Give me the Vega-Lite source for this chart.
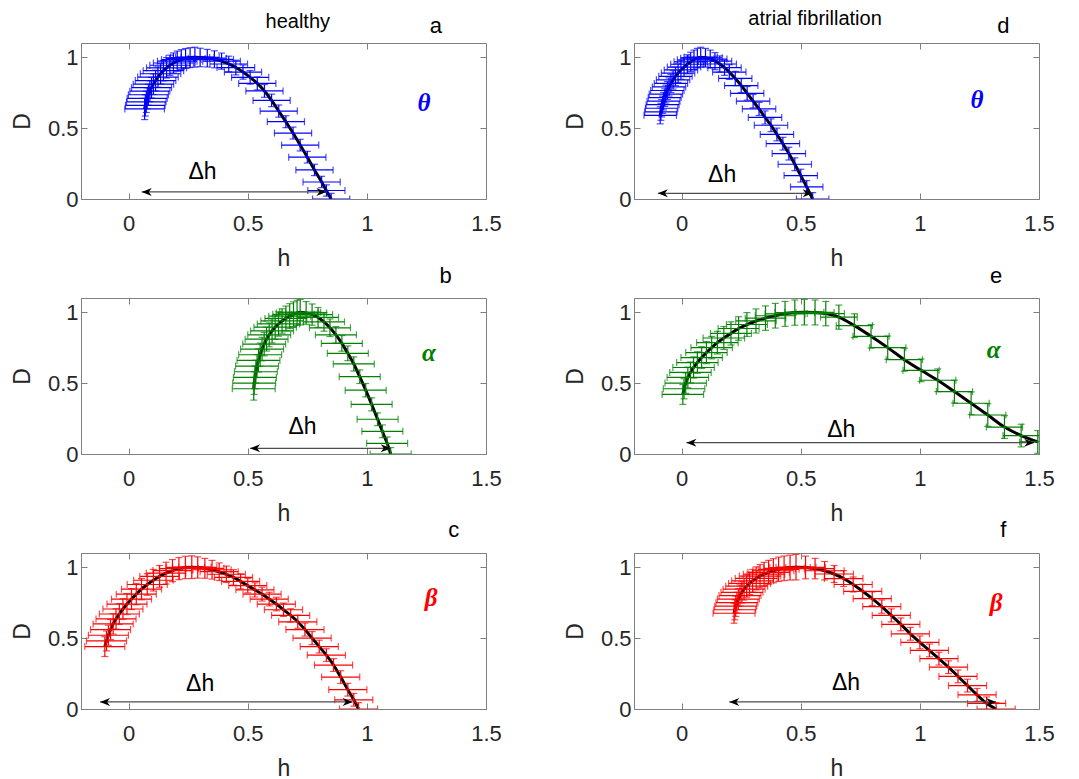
{
"$schema": "https://vega.github.io/schema/vega-lite/v6.json",
"padding": {"left": 10, "top": 8, "right": 5, "bottom": 5},
"background": "white",
"data": {"values": [
{"p":"a","h":0.067,"D":0.635,"xe":0.083,"ye":0.075},
{"p":"a","h":0.070,"D":0.66,"xe":0.083,"ye":0.075},
{"p":"a","h":0.074,"D":0.685,"xe":0.083,"ye":0.075},
{"p":"a","h":0.078,"D":0.71,"xe":0.084,"ye":0.074},
{"p":"a","h":0.083,"D":0.735,"xe":0.084,"ye":0.074},
{"p":"a","h":0.089,"D":0.76,"xe":0.084,"ye":0.074},
{"p":"a","h":0.096,"D":0.785,"xe":0.084,"ye":0.073},
{"p":"a","h":0.104,"D":0.81,"xe":0.085,"ye":0.073},
{"p":"a","h":0.113,"D":0.835,"xe":0.085,"ye":0.073},
{"p":"a","h":0.123,"D":0.86,"xe":0.085,"ye":0.072},
{"p":"a","h":0.134,"D":0.883,"xe":0.085,"ye":0.072},
{"p":"a","h":0.146,"D":0.905,"xe":0.085,"ye":0.072},
{"p":"a","h":0.159,"D":0.925,"xe":0.084,"ye":0.072},
{"p":"a","h":0.173,"D":0.943,"xe":0.084,"ye":0.071},
{"p":"a","h":0.188,"D":0.959,"xe":0.084,"ye":0.071},
{"p":"a","h":0.204,"D":0.972,"xe":0.083,"ye":0.071},
{"p":"a","h":0.221,"D":0.983,"xe":0.083,"ye":0.07},
{"p":"a","h":0.239,"D":0.991,"xe":0.082,"ye":0.07},
{"p":"a","h":0.258,"D":0.997,"xe":0.082,"ye":0.07},
{"p":"a","h":0.278,"D":1.0,"xe":0.081,"ye":0.07},
{"p":"a","h":0.30,"D":0.998,"xe":0.08,"ye":0.065},
{"p":"a","h":0.33,"D":0.993,"xe":0.08,"ye":0.062},
{"p":"a","h":0.36,"D":0.985,"xe":0.08,"ye":0.06},
{"p":"a","h":0.39,"D":0.972,"xe":0.079,"ye":0.057},
{"p":"a","h":0.42,"D":0.952,"xe":0.079,"ye":0.055},
{"p":"a","h":0.45,"D":0.927,"xe":0.079,"ye":0.052},
{"p":"a","h":0.48,"D":0.895,"xe":0.078,"ye":0.05},
{"p":"a","h":0.51,"D":0.858,"xe":0.078,"ye":0.048},
{"p":"a","h":0.54,"D":0.815,"xe":0.078,"ye":0.046},
{"p":"a","h":0.57,"D":0.762,"xe":0.078,"ye":0.045},
{"p":"a","h":0.60,"D":0.695,"xe":0.078,"ye":0.044},
{"p":"a","h":0.63,"D":0.62,"xe":0.078,"ye":0.043},
{"p":"a","h":0.66,"D":0.545,"xe":0.078,"ye":0.042},
{"p":"a","h":0.69,"D":0.465,"xe":0.078,"ye":0.042},
{"p":"a","h":0.72,"D":0.38,"xe":0.078,"ye":0.041},
{"p":"a","h":0.75,"D":0.295,"xe":0.078,"ye":0.041},
{"p":"a","h":0.78,"D":0.205,"xe":0.078,"ye":0.04},
{"p":"a","h":0.81,"D":0.12,"xe":0.078,"ye":0.04},
{"p":"a","h":0.83,"D":0.06,"xe":0.078,"ye":0.04},
{"p":"a","h":0.85,"D":0.0,"xe":0.078,"ye":0.04},
{"p":"d","h":-0.090,"D":0.59,"xe":0.068,"ye":0.06},
{"p":"d","h":-0.087,"D":0.615,"xe":0.068,"ye":0.06},
{"p":"d","h":-0.084,"D":0.64,"xe":0.068,"ye":0.061},
{"p":"d","h":-0.080,"D":0.665,"xe":0.069,"ye":0.061},
{"p":"d","h":-0.076,"D":0.69,"xe":0.069,"ye":0.062},
{"p":"d","h":-0.071,"D":0.715,"xe":0.069,"ye":0.062},
{"p":"d","h":-0.066,"D":0.74,"xe":0.07,"ye":0.063},
{"p":"d","h":-0.060,"D":0.765,"xe":0.07,"ye":0.063},
{"p":"d","h":-0.053,"D":0.79,"xe":0.07,"ye":0.064},
{"p":"d","h":-0.045,"D":0.815,"xe":0.07,"ye":0.064},
{"p":"d","h":-0.036,"D":0.84,"xe":0.07,"ye":0.065},
{"p":"d","h":-0.026,"D":0.865,"xe":0.07,"ye":0.065},
{"p":"d","h":-0.015,"D":0.888,"xe":0.07,"ye":0.066},
{"p":"d","h":-0.003,"D":0.91,"xe":0.07,"ye":0.066},
{"p":"d","h":0.010,"D":0.93,"xe":0.07,"ye":0.067},
{"p":"d","h":0.024,"D":0.95,"xe":0.07,"ye":0.067},
{"p":"d","h":0.038,"D":0.967,"xe":0.07,"ye":0.068},
{"p":"d","h":0.052,"D":0.982,"xe":0.07,"ye":0.068},
{"p":"d","h":0.066,"D":0.993,"xe":0.07,"ye":0.069},
{"p":"d","h":0.080,"D":1.0,"xe":0.07,"ye":0.07},
{"p":"d","h":0.10,"D":0.996,"xe":0.07,"ye":0.066},
{"p":"d","h":0.12,"D":0.987,"xe":0.07,"ye":0.063},
{"p":"d","h":0.14,"D":0.972,"xe":0.07,"ye":0.06},
{"p":"d","h":0.16,"D":0.952,"xe":0.07,"ye":0.057},
{"p":"d","h":0.18,"D":0.926,"xe":0.07,"ye":0.054},
{"p":"d","h":0.20,"D":0.895,"xe":0.07,"ye":0.052},
{"p":"d","h":0.225,"D":0.85,"xe":0.07,"ye":0.05},
{"p":"d","h":0.25,"D":0.80,"xe":0.07,"ye":0.049},
{"p":"d","h":0.275,"D":0.745,"xe":0.07,"ye":0.048},
{"p":"d","h":0.30,"D":0.69,"xe":0.07,"ye":0.047},
{"p":"d","h":0.325,"D":0.635,"xe":0.07,"ye":0.046},
{"p":"d","h":0.35,"D":0.575,"xe":0.07,"ye":0.046},
{"p":"d","h":0.375,"D":0.52,"xe":0.07,"ye":0.045},
{"p":"d","h":0.40,"D":0.455,"xe":0.07,"ye":0.045},
{"p":"d","h":0.425,"D":0.39,"xe":0.07,"ye":0.045},
{"p":"d","h":0.45,"D":0.32,"xe":0.07,"ye":0.045},
{"p":"d","h":0.475,"D":0.245,"xe":0.07,"ye":0.045},
{"p":"d","h":0.50,"D":0.165,"xe":0.07,"ye":0.045},
{"p":"d","h":0.525,"D":0.085,"xe":0.068,"ye":0.045},
{"p":"d","h":0.55,"D":0.0,"xe":0.068,"ye":0.045},
{"p":"b","h":0.525,"D":0.46,"xe":0.09,"ye":0.08},
{"p":"b","h":0.527,"D":0.50,"xe":0.09,"ye":0.08},
{"p":"b","h":0.530,"D":0.54,"xe":0.09,"ye":0.08},
{"p":"b","h":0.534,"D":0.58,"xe":0.09,"ye":0.081},
{"p":"b","h":0.539,"D":0.62,"xe":0.09,"ye":0.081},
{"p":"b","h":0.545,"D":0.66,"xe":0.09,"ye":0.082},
{"p":"b","h":0.552,"D":0.70,"xe":0.09,"ye":0.082},
{"p":"b","h":0.560,"D":0.74,"xe":0.09,"ye":0.083},
{"p":"b","h":0.569,"D":0.775,"xe":0.09,"ye":0.083},
{"p":"b","h":0.579,"D":0.81,"xe":0.09,"ye":0.084},
{"p":"b","h":0.590,"D":0.84,"xe":0.09,"ye":0.084},
{"p":"b","h":0.602,"D":0.868,"xe":0.09,"ye":0.085},
{"p":"b","h":0.615,"D":0.894,"xe":0.089,"ye":0.085},
{"p":"b","h":0.629,"D":0.917,"xe":0.089,"ye":0.086},
{"p":"b","h":0.644,"D":0.938,"xe":0.089,"ye":0.086},
{"p":"b","h":0.660,"D":0.956,"xe":0.088,"ye":0.087},
{"p":"b","h":0.676,"D":0.972,"xe":0.088,"ye":0.088},
{"p":"b","h":0.692,"D":0.985,"xe":0.087,"ye":0.088},
{"p":"b","h":0.707,"D":0.995,"xe":0.087,"ye":0.089},
{"p":"b","h":0.720,"D":1.0,"xe":0.086,"ye":0.09},
{"p":"b","h":0.745,"D":0.995,"xe":0.086,"ye":0.08},
{"p":"b","h":0.770,"D":0.983,"xe":0.086,"ye":0.075},
{"p":"b","h":0.795,"D":0.963,"xe":0.086,"ye":0.07},
{"p":"b","h":0.820,"D":0.932,"xe":0.086,"ye":0.066},
{"p":"b","h":0.845,"D":0.89,"xe":0.086,"ye":0.062},
{"p":"b","h":0.870,"D":0.84,"xe":0.086,"ye":0.058},
{"p":"b","h":0.895,"D":0.78,"xe":0.086,"ye":0.055},
{"p":"b","h":0.920,"D":0.71,"xe":0.086,"ye":0.052},
{"p":"b","h":0.945,"D":0.635,"xe":0.086,"ye":0.05},
{"p":"b","h":0.970,"D":0.545,"xe":0.086,"ye":0.048},
{"p":"b","h":0.995,"D":0.45,"xe":0.086,"ye":0.047},
{"p":"b","h":1.020,"D":0.35,"xe":0.086,"ye":0.046},
{"p":"b","h":1.045,"D":0.245,"xe":0.086,"ye":0.045},
{"p":"b","h":1.065,"D":0.16,"xe":0.086,"ye":0.045},
{"p":"b","h":1.085,"D":0.075,"xe":0.086,"ye":0.045},
{"p":"b","h":1.100,"D":0.0,"xe":0.086,"ye":0.045},
{"p":"e","h":0.005,"D":0.42,"xe":0.087,"ye":0.07},
{"p":"e","h":0.010,"D":0.46,"xe":0.087,"ye":0.071},
{"p":"e","h":0.017,"D":0.50,"xe":0.087,"ye":0.072},
{"p":"e","h":0.026,"D":0.54,"xe":0.087,"ye":0.073},
{"p":"e","h":0.037,"D":0.575,"xe":0.087,"ye":0.074},
{"p":"e","h":0.050,"D":0.61,"xe":0.087,"ye":0.075},
{"p":"e","h":0.066,"D":0.645,"xe":0.087,"ye":0.076},
{"p":"e","h":0.084,"D":0.68,"xe":0.087,"ye":0.077},
{"p":"e","h":0.104,"D":0.715,"xe":0.087,"ye":0.078},
{"p":"e","h":0.126,"D":0.75,"xe":0.087,"ye":0.079},
{"p":"e","h":0.150,"D":0.785,"xe":0.087,"ye":0.08},
{"p":"e","h":0.177,"D":0.818,"xe":0.087,"ye":0.081},
{"p":"e","h":0.207,"D":0.85,"xe":0.086,"ye":0.082},
{"p":"e","h":0.239,"D":0.885,"xe":0.086,"ye":0.083},
{"p":"e","h":0.274,"D":0.913,"xe":0.086,"ye":0.084},
{"p":"e","h":0.312,"D":0.938,"xe":0.085,"ye":0.085},
{"p":"e","h":0.352,"D":0.958,"xe":0.085,"ye":0.086},
{"p":"e","h":0.393,"D":0.975,"xe":0.084,"ye":0.087},
{"p":"e","h":0.434,"D":0.988,"xe":0.084,"ye":0.088},
{"p":"e","h":0.475,"D":0.997,"xe":0.083,"ye":0.089},
{"p":"e","h":0.515,"D":1.0,"xe":0.082,"ye":0.09},
{"p":"e","h":0.56,"D":0.998,"xe":0.08,"ye":0.088},
{"p":"e","h":0.605,"D":0.99,"xe":0.078,"ye":0.086},
{"p":"e","h":0.66,"D":0.965,"xe":0.077,"ye":0.085},
{"p":"e","h":0.725,"D":0.905,"xe":0.076,"ye":0.084},
{"p":"e","h":0.795,"D":0.83,"xe":0.076,"ye":0.083},
{"p":"e","h":0.865,"D":0.75,"xe":0.076,"ye":0.082},
{"p":"e","h":0.935,"D":0.665,"xe":0.076,"ye":0.081},
{"p":"e","h":1.005,"D":0.59,"xe":0.076,"ye":0.08},
{"p":"e","h":1.075,"D":0.52,"xe":0.076,"ye":0.08},
{"p":"e","h":1.145,"D":0.44,"xe":0.076,"ye":0.08},
{"p":"e","h":1.215,"D":0.358,"xe":0.076,"ye":0.08},
{"p":"e","h":1.285,"D":0.275,"xe":0.076,"ye":0.08},
{"p":"e","h":1.355,"D":0.19,"xe":0.076,"ye":0.08},
{"p":"e","h":1.425,"D":0.13,"xe":0.076,"ye":0.08},
{"p":"e","h":1.495,"D":0.085,"xe":0.076,"ye":0.08},
{"p":"c","h":-0.100,"D":0.44,"xe":0.084,"ye":0.07},
{"p":"c","h":-0.093,"D":0.48,"xe":0.084,"ye":0.07},
{"p":"c","h":-0.085,"D":0.52,"xe":0.084,"ye":0.071},
{"p":"c","h":-0.076,"D":0.56,"xe":0.084,"ye":0.071},
{"p":"c","h":-0.065,"D":0.60,"xe":0.084,"ye":0.072},
{"p":"c","h":-0.053,"D":0.635,"xe":0.084,"ye":0.072},
{"p":"c","h":-0.039,"D":0.67,"xe":0.084,"ye":0.073},
{"p":"c","h":-0.024,"D":0.705,"xe":0.084,"ye":0.073},
{"p":"c","h":-0.007,"D":0.74,"xe":0.084,"ye":0.074},
{"p":"c","h":0.012,"D":0.775,"xe":0.084,"ye":0.074},
{"p":"c","h":0.032,"D":0.81,"xe":0.084,"ye":0.075},
{"p":"c","h":0.054,"D":0.845,"xe":0.084,"ye":0.075},
{"p":"c","h":0.078,"D":0.878,"xe":0.084,"ye":0.076},
{"p":"c","h":0.104,"D":0.908,"xe":0.083,"ye":0.076},
{"p":"c","h":0.130,"D":0.935,"xe":0.083,"ye":0.077},
{"p":"c","h":0.157,"D":0.958,"xe":0.083,"ye":0.077},
{"p":"c","h":0.184,"D":0.976,"xe":0.082,"ye":0.078},
{"p":"c","h":0.211,"D":0.99,"xe":0.082,"ye":0.078},
{"p":"c","h":0.238,"D":0.998,"xe":0.081,"ye":0.079},
{"p":"c","h":0.265,"D":1.0,"xe":0.081,"ye":0.08},
{"p":"c","h":0.29,"D":0.998,"xe":0.08,"ye":0.075},
{"p":"c","h":0.32,"D":0.992,"xe":0.08,"ye":0.07},
{"p":"c","h":0.35,"D":0.982,"xe":0.08,"ye":0.066},
{"p":"c","h":0.38,"D":0.968,"xe":0.08,"ye":0.062},
{"p":"c","h":0.41,"D":0.95,"xe":0.08,"ye":0.058},
{"p":"c","h":0.44,"D":0.928,"xe":0.08,"ye":0.055},
{"p":"c","h":0.47,"D":0.90,"xe":0.08,"ye":0.053},
{"p":"c","h":0.50,"D":0.87,"xe":0.08,"ye":0.051},
{"p":"c","h":0.53,"D":0.84,"xe":0.08,"ye":0.05},
{"p":"c","h":0.56,"D":0.81,"xe":0.08,"ye":0.049},
{"p":"c","h":0.59,"D":0.775,"xe":0.08,"ye":0.048},
{"p":"c","h":0.62,"D":0.74,"xe":0.08,"ye":0.048},
{"p":"c","h":0.65,"D":0.70,"xe":0.08,"ye":0.047},
{"p":"c","h":0.68,"D":0.66,"xe":0.08,"ye":0.047},
{"p":"c","h":0.71,"D":0.615,"xe":0.08,"ye":0.046},
{"p":"c","h":0.74,"D":0.56,"xe":0.08,"ye":0.046},
{"p":"c","h":0.77,"D":0.50,"xe":0.08,"ye":0.046},
{"p":"c","h":0.80,"D":0.44,"xe":0.08,"ye":0.045},
{"p":"c","h":0.83,"D":0.38,"xe":0.08,"ye":0.045},
{"p":"c","h":0.86,"D":0.31,"xe":0.08,"ye":0.045},
{"p":"c","h":0.89,"D":0.225,"xe":0.08,"ye":0.045},
{"p":"c","h":0.92,"D":0.136,"xe":0.08,"ye":0.045},
{"p":"c","h":0.945,"D":0.065,"xe":0.08,"ye":0.045},
{"p":"c","h":0.965,"D":0.0,"xe":0.08,"ye":0.045},
{"p":"f","h":0.220,"D":0.675,"xe":0.088,"ye":0.07},
{"p":"f","h":0.223,"D":0.70,"xe":0.088,"ye":0.071},
{"p":"f","h":0.227,"D":0.725,"xe":0.088,"ye":0.072},
{"p":"f","h":0.232,"D":0.75,"xe":0.088,"ye":0.073},
{"p":"f","h":0.238,"D":0.775,"xe":0.088,"ye":0.074},
{"p":"f","h":0.245,"D":0.80,"xe":0.088,"ye":0.075},
{"p":"f","h":0.253,"D":0.823,"xe":0.088,"ye":0.076},
{"p":"f","h":0.262,"D":0.845,"xe":0.088,"ye":0.077},
{"p":"f","h":0.273,"D":0.866,"xe":0.088,"ye":0.078},
{"p":"f","h":0.285,"D":0.886,"xe":0.088,"ye":0.079},
{"p":"f","h":0.298,"D":0.904,"xe":0.088,"ye":0.08},
{"p":"f","h":0.313,"D":0.921,"xe":0.088,"ye":0.081},
{"p":"f","h":0.329,"D":0.937,"xe":0.087,"ye":0.082},
{"p":"f","h":0.346,"D":0.951,"xe":0.087,"ye":0.083},
{"p":"f","h":0.365,"D":0.964,"xe":0.087,"ye":0.084},
{"p":"f","h":0.385,"D":0.975,"xe":0.086,"ye":0.085},
{"p":"f","h":0.407,"D":0.985,"xe":0.086,"ye":0.086},
{"p":"f","h":0.430,"D":0.992,"xe":0.085,"ye":0.087},
{"p":"f","h":0.455,"D":0.997,"xe":0.085,"ye":0.088},
{"p":"f","h":0.480,"D":1.0,"xe":0.084,"ye":0.09},
{"p":"f","h":0.52,"D":0.998,"xe":0.083,"ye":0.08},
{"p":"f","h":0.56,"D":0.99,"xe":0.082,"ye":0.072},
{"p":"f","h":0.60,"D":0.975,"xe":0.082,"ye":0.065},
{"p":"f","h":0.64,"D":0.952,"xe":0.081,"ye":0.06},
{"p":"f","h":0.68,"D":0.92,"xe":0.081,"ye":0.056},
{"p":"f","h":0.72,"D":0.878,"xe":0.08,"ye":0.053},
{"p":"f","h":0.76,"D":0.83,"xe":0.08,"ye":0.05},
{"p":"f","h":0.80,"D":0.778,"xe":0.08,"ye":0.048},
{"p":"f","h":0.84,"D":0.722,"xe":0.08,"ye":0.047},
{"p":"f","h":0.88,"D":0.66,"xe":0.08,"ye":0.046},
{"p":"f","h":0.92,"D":0.597,"xe":0.08,"ye":0.045},
{"p":"f","h":0.96,"D":0.53,"xe":0.08,"ye":0.045},
{"p":"f","h":1.00,"D":0.47,"xe":0.08,"ye":0.045},
{"p":"f","h":1.04,"D":0.413,"xe":0.08,"ye":0.045},
{"p":"f","h":1.08,"D":0.355,"xe":0.08,"ye":0.045},
{"p":"f","h":1.12,"D":0.295,"xe":0.08,"ye":0.045},
{"p":"f","h":1.16,"D":0.23,"xe":0.08,"ye":0.045},
{"p":"f","h":1.20,"D":0.165,"xe":0.08,"ye":0.045},
{"p":"f","h":1.24,"D":0.10,"xe":0.08,"ye":0.045},
{"p":"f","h":1.28,"D":0.04,"xe":0.08,"ye":0.045},
{"p":"f","h":1.32,"D":0.0,"xe":0.08,"ye":0.045},
{"p":"a","k":1,"a1":0.055,"a2":0.83,"ay":0.05,"th":0.31,"tD":0.19,"gh":1.24,"gD":0.68,"g":"θ","lh":1.29,"lD":1.17,"L":"a","T":"healthy","Th":0.71,"TD":1.206},
{"p":"d","k":1,"a1":-0.10,"a2":0.55,"ay":0.04,"th":0.17,"tD":0.17,"gh":1.24,"gD":0.70,"g":"θ","lh":1.35,"lD":1.17,"L":"d","T":"atrial fibrillation","Th":0.56,"TD":1.227},
{"p":"b","k":1,"a1":0.51,"a2":1.10,"ay":0.04,"th":0.73,"tD":0.19,"gh":1.26,"gD":0.71,"g":"α","lh":1.33,"lD":1.206,"L":"b"},
{"p":"e","k":1,"a1":0.02,"a2":1.48,"ay":0.08,"th":0.67,"tD":0.17,"gh":1.31,"gD":0.73,"g":"α","lh":1.32,"lD":1.206,"L":"e"},
{"p":"c","k":1,"a1":-0.12,"a2":0.94,"ay":0.05,"th":0.30,"tD":0.176,"gh":1.27,"gD":0.78,"g":"β","lh":1.365,"lD":1.213,"L":"c"},
{"p":"f","k":1,"a1":0.20,"a2":1.32,"ay":0.05,"th":0.69,"tD":0.18,"gh":1.32,"gD":0.75,"g":"β","lh":1.35,"lD":1.213,"L":"f"}
]},
"transform": [{"lookup": "p", "from": {"data": {"values": [
 {"p":"a","r":1,"c":1},{"p":"b","r":2,"c":1},{"p":"c","r":3,"c":1},
 {"p":"d","r":1,"c":2},{"p":"e","r":2,"c":2},{"p":"f","r":3,"c":2}]}, "key": "p", "fields": ["r","c"]}}],
"facet": {
 "row": {"field": "r", "type": "ordinal", "header": null},
 "column": {"field": "c", "type": "ordinal", "header": null}},
"spacing": {"row": 99, "column": 148},
"bounds": "flush",
"resolve": {"axis": {"x": "independent", "y": "independent"}},
"spec": {
"width": 405, "height": 156,
"resolve": {"axis": {"x": "independent", "y": "independent"}},
"layer": [
{"transform": [{"filter": "!datum.k"}],
 "mark": {"type": "line", "color": "#000000", "strokeWidth": 3, "interpolate": "monotone", "clip": true},
 "encoding": {
  "x": {"field": "h", "type": "quantitative", "title": "h", "scale": {"domain": [-0.2, 1.5], "nice": false, "zero": false}, "axis": {"orient": "bottom", "values": [0, 0.5, 1, 1.5], "labelExpr": "'' + datum.value"}},
  "y": {"field": "D", "type": "quantitative", "title": "D", "scale": {"domain": [0, 1.1], "nice": false, "zero": false}, "axis": {"orient": "left", "values": [0, 0.5, 1], "labelExpr": "'' + datum.value"}},
  "order": {"field": "h"}}},
{"transform": [{"filter": "!datum.k"}],
 "mark": {"type": "errorbar", "thickness": 1.2, "ticks": {"size": 7, "thickness": 1.2}, "clip": true},
 "encoding": {
  "x": {"field": "h", "type": "quantitative", "title": null, "axis": {"orient": "top", "values": [0, 0.5, 1], "labels": false, "domain": false, "title": null}},
  "xError": {"field": "xe"},
  "y": {"field": "D", "type": "quantitative", "title": null, "axis": {"orient": "right", "values": [0.5, 1], "labels": false, "domain": false, "title": null}},
  "color": {"field": "p", "type": "nominal", "scale": {"domain": ["a","b","c","d","e","f"], "range": ["#0000ff","#008000","#ff0000","#0000ff","#008000","#ff0000"]}, "legend": null}}},
{"transform": [{"filter": "!datum.k"}],
 "mark": {"type": "errorbar", "thickness": 1.2, "ticks": {"size": 7, "thickness": 1.2}, "clip": true},
 "encoding": {
  "x": {"field": "h", "type": "quantitative", "axis": null},
  "y": {"field": "D", "type": "quantitative", "axis": null},
  "yError": {"field": "ye"},
  "color": {"field": "p", "type": "nominal", "legend": null}}},
{"transform": [{"filter": "datum.k"}],
 "mark": {"type": "rule", "color": "#4d4d4d", "strokeWidth": 1.2},
 "encoding": {
  "x": {"field": "a1", "type": "quantitative", "axis": null},
  "x2": {"field": "a2"},
  "y": {"field": "ay", "type": "quantitative", "axis": null}}},
{"transform": [{"filter": "datum.k"}],
 "mark": {"type": "point", "shape": "M0,0L1,-0.4L0.7,0L1,0.4Z", "size": 400, "filled": true, "color": "#000000", "opacity": 1},
 "encoding": {
  "x": {"field": "a1", "type": "quantitative", "axis": null},
  "y": {"field": "ay", "type": "quantitative", "axis": null}}},
{"transform": [{"filter": "datum.k"}],
 "mark": {"type": "point", "shape": "M0,0L-1,-0.4L-0.7,0L-1,0.4Z", "size": 400, "filled": true, "color": "#000000", "opacity": 1},
 "encoding": {
  "x": {"field": "a2", "type": "quantitative", "axis": null},
  "y": {"field": "ay", "type": "quantitative", "axis": null}}},
{"transform": [{"filter": "datum.k"}],
 "mark": {"type": "text", "text": "Δh", "fontSize": 23, "color": "#000000", "align": "center", "baseline": "middle"},
 "encoding": {
  "x": {"field": "th", "type": "quantitative", "axis": null},
  "y": {"field": "tD", "type": "quantitative", "axis": null}}},
{"transform": [{"filter": "datum.k"}],
 "mark": {"type": "text", "font": "Liberation Serif", "fontStyle": "italic", "fontWeight": "bold", "fontSize": 25, "align": "center", "baseline": "middle"},
 "encoding": {
  "x": {"field": "gh", "type": "quantitative", "axis": null},
  "y": {"field": "gD", "type": "quantitative", "axis": null},
  "text": {"field": "g"},
  "color": {"field": "p", "type": "nominal", "legend": null}}},
{"transform": [{"filter": "datum.k"}],
 "mark": {"type": "text", "fontSize": 22, "color": "#000000", "align": "center", "baseline": "alphabetic"},
 "encoding": {
  "x": {"field": "lh", "type": "quantitative", "axis": null},
  "y": {"field": "lD", "type": "quantitative", "axis": null},
  "text": {"field": "L"}}},
{"transform": [{"filter": "datum.T"}],
 "mark": {"type": "text", "fontSize": 20, "color": "#000000", "align": "center", "baseline": "alphabetic"},
 "encoding": {
  "x": {"field": "Th", "type": "quantitative", "axis": null},
  "y": {"field": "TD", "type": "quantitative", "axis": null},
  "text": {"field": "T"}}}
]},
"config": {
 "font": "Liberation Sans",
 "view": {"stroke": "#7f7f7f", "strokeWidth": 1},
 "axis": {"grid": false, "domainColor": "#7f7f7f", "tickColor": "#7f7f7f", "tickSize": -6, "labelFlush": false, "labelOverlap": false, "labelFont": "Liberation Sans", "labelFontSize": 22, "labelColor": "#262626", "titleFont": "Liberation Sans", "titleFontSize": 23, "titleFontWeight": "normal", "titleColor": "#262626"},
 "axisX": {"labelPadding": 20, "titlePadding": 13},
 "axisY": {"labelPadding": 9, "titlePadding": 13},
 "text": {"font": "Liberation Sans"}
}
}
